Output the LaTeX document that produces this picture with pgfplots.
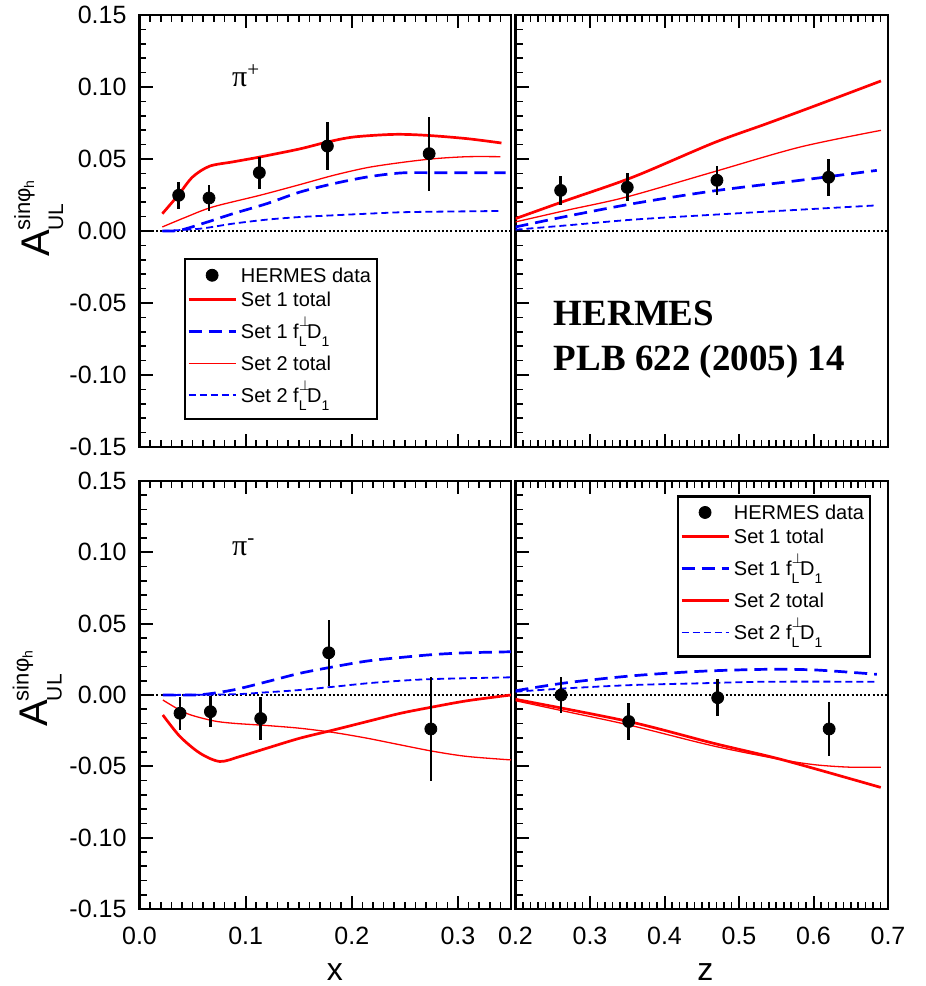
\documentclass[border=0pt]{standalone}
\usepackage{pgfplots}
\usepackage{pgfplotstable}
\pgfplotsset{compat=1.18}
\usepackage{fontspec}
\setmainfont{Liberation Sans}
\newfontfamily\serif{Liberation Serif}

% ---------------- data: pi+ vs x ----------------
\pgfplotstableread{
x y e
0.0369 0.0248 0.0095
0.0655 0.0229 0.0088
0.1129 0.0405 0.0110
0.1770 0.0590 0.0167
0.2729 0.0537 0.0258
}\datTL
\pgfplotstableread{
x y
0.0215 0.0120
0.0366 0.0250
0.0500 0.0375
0.0660 0.0450
0.0880 0.0480
0.1135 0.0514
0.1510 0.0570
0.1770 0.0618
0.2020 0.0653
0.2400 0.0671
0.2710 0.0664
0.3090 0.0641
0.3410 0.0611
}\aTL
\pgfplotstableread{
x y
0.0215 0.0028
0.0440 0.0097
0.0690 0.0167
0.1135 0.0248
0.1510 0.0322
0.1830 0.0387
0.2145 0.0440
0.2460 0.0475
0.2776 0.0502
0.3090 0.0516
0.3400 0.0516
}\bTL
\pgfplotstableread{
x y
0.0215 0.0000
0.0380 0.0005
0.0630 0.0060
0.0880 0.0120
0.1200 0.0190
0.1510 0.0270
0.1830 0.0329
0.2145 0.0375
0.2460 0.0403
0.2776 0.0405
0.3090 0.0405
0.3450 0.0405
}\cTL
\pgfplotstableread{
x y
0.0215 0.0000
0.0570 0.0016
0.0880 0.0051
0.1200 0.0079
0.1510 0.0097
0.1830 0.0109
0.2145 0.0120
0.2460 0.0130
0.2776 0.0134
0.3400 0.0139
}\dTL
% ---------------- data: pi+ vs z ----------------
\pgfplotstableread{
x y e
0.2606 0.0282 0.0098
0.3500 0.0303 0.0098
0.4704 0.0352 0.0100
0.6203 0.0373 0.0130
}\datTR
\pgfplotstableread{
x y
0.2000 0.0086
0.2687 0.0213
0.3580 0.0375
0.4655 0.0611
0.5370 0.0745
0.6040 0.0873
0.6906 0.1042
}\aTR
\pgfplotstableread{
x y
0.2000 0.0063
0.2687 0.0144
0.3490 0.0236
0.4655 0.0410
0.5820 0.0583
0.6906 0.0699
}\bTR
\pgfplotstableread{
x y
0.2000 0.0028
0.2687 0.0102
0.3580 0.0190
0.4655 0.0278
0.5820 0.0352
0.6850 0.0421
}\cTR
\pgfplotstableread{
x y
0.2000 0.0009
0.2687 0.0039
0.3580 0.0079
0.4655 0.0113
0.5820 0.0148
0.6850 0.0178
}\dTR
% ---------------- data: pi- vs x ----------------
\pgfplotstableread{
x y e
0.0382 -0.0128 0.0116
0.0668 -0.0117 0.0110
0.1142 -0.0165 0.0150
0.1783 0.0296 0.0230
0.2745 -0.0238 0.0367
}\datBL
\pgfplotstableread{
x y
0.0220 -0.0140
0.0380 -0.0290
0.0570 -0.0408
0.0757 -0.0466
0.0946 -0.0431
0.1200 -0.0373
0.1510 -0.0303
0.1830 -0.0245
0.2145 -0.0186
0.2460 -0.0128
0.2776 -0.0082
0.3090 -0.0040
0.3500 0.0000
}\aBL
\pgfplotstableread{
x y
0.0220 -0.0035
0.0440 -0.0128
0.0690 -0.0180
0.0880 -0.0198
0.1200 -0.0214
0.1510 -0.0233
0.1830 -0.0263
0.2145 -0.0303
0.2460 -0.0350
0.2776 -0.0396
0.3090 -0.0431
0.3500 -0.0455
}\bBL
\pgfplotstableread{
x y
0.0220 0.0000
0.0570 0.0002
0.0880 0.0035
0.1200 0.0093
0.1510 0.0152
0.1830 0.0198
0.2145 0.0238
0.2460 0.0263
0.2776 0.0284
0.3090 0.0296
0.3500 0.0303
}\cBL
\pgfplotstableread{
x y
0.0220 0.0000
0.0880 0.0005
0.1200 0.0019
0.1510 0.0035
0.1830 0.0058
0.2145 0.0082
0.2460 0.0100
0.2776 0.0112
0.3500 0.0124
}\dBL
% ---------------- data: pi- vs z ----------------
\pgfplotstableread{
x y e
0.2612 0.0000 0.0128
0.3520 -0.0186 0.0128
0.4714 -0.0019 0.0130
0.6210 -0.0238 0.0187
}\datBR
\pgfplotstableread{
x y
0.2000 -0.0030
0.3520 -0.0186
0.4655 -0.0338
0.5590 -0.0455
0.6903 -0.0648
}\aBR
\pgfplotstableread{
x y
0.2000 -0.0040
0.2688 -0.0117
0.3520 -0.0210
0.4655 -0.0357
0.5590 -0.0455
0.6040 -0.0490
0.6490 -0.0506
0.6903 -0.0506
}\bBR
\pgfplotstableread{
x y
0.2000 0.0030
0.2688 0.0086
0.3580 0.0135
0.4476 0.0166
0.5370 0.0180
0.6040 0.0175
0.6850 0.0145
}\cBR
\pgfplotstableread{
x y
0.2000 0.0023
0.2688 0.0047
0.3580 0.0070
0.4476 0.0082
0.5370 0.0093
0.6850 0.0093
}\dBR

\pgfplotsset{
  panel/.style={
    scale only axis, anchor=south west,
    ymin=-0.15, ymax=0.15,
    ytick={-0.15,-0.10,-0.05,0,0.05,0.10,0.15},
    minor ytick={-0.14,-0.13,-0.12,-0.11,-0.09,-0.08,-0.07,-0.06,-0.04,-0.03,-0.02,-0.01,0.01,0.02,0.03,0.04,0.06,0.07,0.08,0.09,0.11,0.12,0.13,0.14},
    tick align=inside,
    xtick pos=both, ytick pos=left,
    axis line style={line width=1.4pt},
    major tick length=6.5pt, minor tick length=3.5pt,
    major tick style={line width=1pt, black},
    minor tick style={line width=0.8pt, black},
    scaled ticks=false,
    /pgf/number format/assume math mode=true,
    tick label style={font=\fontsize{12.5}{14}\selectfont},
    yticklabel style={xshift=-3pt, /pgf/number format/.cd, fixed, fixed zerofill, precision=2},
    xticklabel style={yshift=-5.5pt, /pgf/number format/.cd, fixed, fixed zerofill, precision=1},
    legend image code/.code={\draw[mark repeat=2,mark phase=2,#1] plot coordinates {(0pt,0pt) (11.75pt,0pt) (23.5pt,0pt)};},
    legend cell align=left,
    legend style={draw=black, line width=1.2pt, fill=white, font=\fontsize{10}{12}\selectfont,
      inner xsep=1pt, inner ysep=2pt, row sep=0pt, nodes={inner ysep=0pt, inner xsep=2pt, text depth=}},
  },
  xpanel/.style={panel, xmin=0, xmax=0.35, xtick={0,0.1,0.2,0.3},
    minor xtick={0.01,0.02,0.03,0.04,0.05,0.06,0.07,0.08,0.09,0.11,0.12,0.13,0.14,0.15,0.16,0.17,0.18,0.19,0.21,0.22,0.23,0.24,0.25,0.26,0.27,0.28,0.29,0.31,0.32,0.33,0.34},
    every axis y label/.style={at={(axis description cs:-0.243,0.44)}, rotate=90, anchor=base west, inner sep=0pt},
    ylabel={\fontsize{20}{20}\selectfont A\kern-0.5pt\rlap{\raisebox{9.5pt}{\fontsize{11}{11}\selectfont sinφ\raisebox{-2pt}{\fontsize{7}{7}\selectfont h}}}\raisebox{-7pt}{\fontsize{10.5}{10.5}\selectfont UL}},
  },
  zpanel/.style={panel, xmin=0.2, xmax=0.7, xtick={0.2,0.3,0.4,0.5,0.6,0.7},
    minor xtick={0.21,0.22,0.23,0.24,0.25,0.26,0.27,0.28,0.29,0.31,0.32,0.33,0.34,0.35,0.36,0.37,0.38,0.39,0.41,0.42,0.43,0.44,0.45,0.46,0.47,0.48,0.49,0.51,0.52,0.53,0.54,0.55,0.56,0.57,0.58,0.59,0.61,0.62,0.63,0.64,0.65,0.66,0.67,0.68,0.69},
    yticklabels={},
  },
  s1t/.style={red, line width=1.35pt, smooth},
  s2t/.style={red, line width=0.65pt, smooth},
  s1f/.style={blue, line width=1.35pt, dash pattern=on 6.5pt off 3.5pt, smooth},
  s2f/.style={blue, line width=0.9pt, dash pattern=on 3.5pt off 2pt, smooth},
  zeroline/.style={black, line width=1.1pt, dash pattern=on 1pt off 1.1pt, forget plot},
  dat/.style={only marks, mark=*, mark size=3pt, black, mark options={fill=black, line width=0.4pt},
    forget plot, error bars/.cd, y dir=both, y explicit, error mark=none,
    error bar style={line width=1.25pt, black}},
}

% symmetric strut around the text centre (3.6pt above the baseline): #1 = half height
\newcommand{\lstrut}[1]{\rule[\dimexpr3.6pt-#1\relax]{0pt}{\dimexpr2\dimexpr#1\relax\relax}}
\newcommand{\fLD}{f\rlap{\raisebox{6pt}{\fontsize{7}{7}\selectfont$\perp$}}\raisebox{-3.9pt}{\fontsize{7}{7}\selectfont L}\kern0.3pt D\raisebox{-3.9pt}{\fontsize{7}{7}\selectfont 1}}

\begin{document}
\begin{tikzpicture}
\useasboundingbox (0pt,0pt) rectangle (463pt,493pt);

% ---------- top left: pi+ vs x ----------
\begin{axis}[xpanel, at={(69.75pt,269.5pt)}, width=185.75pt, height=216pt, xticklabels={},
  legend style={at={(axis cs:0.042,-0.0188)}, anchor=north west}]
\addplot[zeroline] coordinates {(0,0) (0.35,0)};
\addplot[s1t, forget plot] table {\aTL};
\addplot[s2t, forget plot] table {\bTL};
\addplot[s1f, forget plot] table {\cTL};
\addplot[s2f, forget plot] table {\dTL};
\addplot[dat] table[x=x, y=y, y error=e] {\datTL};
\addlegendimage{only marks, mark=*, mark size=3pt, black, mark options={fill=black, line width=0.4pt}}
\addlegendentry{\lstrut{6pt}HERMES data}
\addlegendimage{red, line width=1.35pt}
\addlegendentry{\lstrut{6pt}Set 1 total}
\addlegendimage{blue, line width=1.35pt, dash pattern=on 6.5pt off 3.5pt}
\addlegendentry{\lstrut{10pt}Set 1 \fLD}
\addlegendimage{red, line width=0.65pt}
\addlegendentry{\lstrut{6pt}Set 2 total}
\addlegendimage{blue, line width=0.9pt, dash pattern=on 3.5pt off 2pt}
\addlegendentry{\lstrut{10pt}Set 2 \fLD}
\node[anchor=base west, font=\serif\fontsize{15}{15}\selectfont] at (axis cs:0.0806,0.100) {π\textsuperscript{+}};
\end{axis}

% ---------- top right: pi+ vs z ----------
\begin{axis}[zpanel, at={(257.75pt,269.5pt)}, width=186.25pt, height=216pt, xticklabels={}]
\addplot[zeroline] coordinates {(0.2,0) (0.7,0)};
\addplot[s1t, forget plot] table {\aTR};
\addplot[s2t, forget plot] table {\bTR};
\addplot[s1f, forget plot] table {\cTR};
\addplot[s2f, forget plot] table {\dTR};
\addplot[dat] table[x=x, y=y, y error=e] {\datTR};
\node[anchor=base west, font=\serif\bfseries\fontsize{18.5}{18.5}\selectfont] at (axis cs:0.242,-0.0653) {HERMES};
\node[anchor=base west, font=\serif\bfseries\fontsize{18.5}{18.5}\selectfont] at (axis cs:0.242,-0.0972) {PLB 622 (2005) 14};
\end{axis}

% ---------- bottom left: pi- vs x ----------
\begin{axis}[xpanel, at={(69.75pt,38.5pt)}, width=185.75pt, height=214pt,
  every axis y label/.style={at={(axis description cs:-0.247,0.425)}, rotate=90, anchor=base west, inner sep=0pt},
  xlabel={x},
  every axis x label/.style={at={(axis description cs:0.526,-0.166)}, anchor=base, font=\fontsize{16}{16}\selectfont}]
\addplot[zeroline] coordinates {(0,0) (0.35,0)};
\addplot[s1t, forget plot] table {\aBL};
\addplot[s2t, forget plot] table {\bBL};
\addplot[s1f, forget plot] table {\cBL};
\addplot[s2f, forget plot] table {\dBL};
\addplot[dat] table[x=x, y=y, y error=e] {\datBL};
\node[anchor=base west, font=\serif\fontsize{15}{15}\selectfont] at (axis cs:0.0806,0.098) {π\textsuperscript{-}};
\end{axis}

% ---------- bottom right: pi- vs z ----------
\begin{axis}[zpanel, at={(257.75pt,38.5pt)}, width=186.25pt, height=214pt,
  xlabel={z},
  every axis x label/.style={at={(axis description cs:0.51,-0.166)}, anchor=base, font=\fontsize{16}{16}\selectfont},
  legend style={at={(axis cs:0.4168,0.140)}, anchor=north west}]
\addplot[zeroline] coordinates {(0.2,0) (0.7,0)};
\addplot[s1t, forget plot] table {\aBR};
\addplot[s2t, forget plot] table {\bBR};
\addplot[s1f, forget plot] table {\cBR};
\addplot[s2f, forget plot] table {\dBR};
\addplot[dat] table[x=x, y=y, y error=e] {\datBR};
\addlegendimage{only marks, mark=*, mark size=3pt, black, mark options={fill=black, line width=0.4pt}}
\addlegendentry{\lstrut{6pt}HERMES data}
\addlegendimage{red, line width=1.35pt}
\addlegendentry{\lstrut{6pt}Set 1 total}
\addlegendimage{blue, line width=1.35pt, dash pattern=on 6.5pt off 3.5pt}
\addlegendentry{\lstrut{10pt}Set 1 \fLD}
\addlegendimage{red, line width=1.35pt}
\addlegendentry{\lstrut{6pt}Set 2 total}
\addlegendimage{blue, line width=0.9pt, dash pattern=on 3.5pt off 2pt}
\addlegendentry{\lstrut{10pt}Set 2 \fLD}
\end{axis}
\end{tikzpicture}
\end{document}
